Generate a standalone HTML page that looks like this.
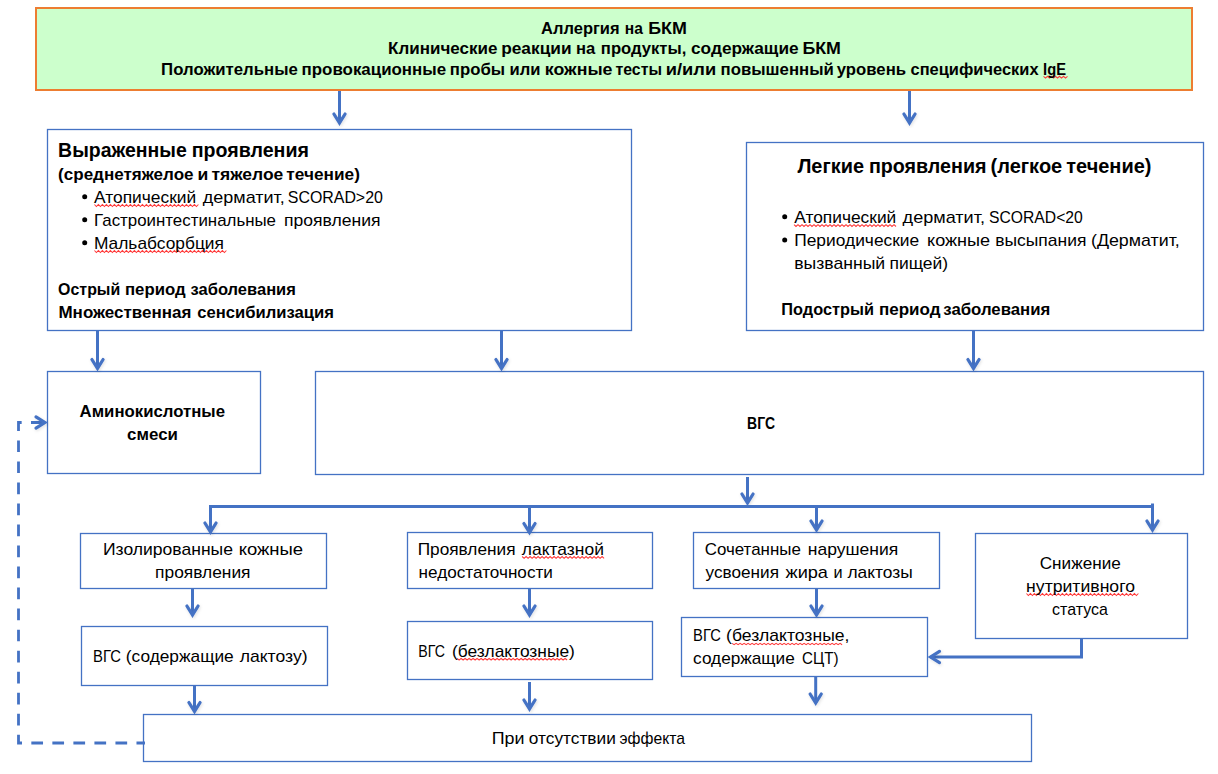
<!DOCTYPE html>
<html><head><meta charset="utf-8"><style>
html,body{margin:0;padding:0;background:#fff;width:1218px;height:774px;overflow:hidden}
svg{display:block}
text{font-family:"Liberation Sans", sans-serif;fill:#000;white-space:pre}
</style></head><body>
<svg width="1218" height="774" viewBox="0 0 1218 774">
<defs><filter id="sh" x="-50%" y="-50%" width="200%" height="200%"><feDropShadow dx="0.8" dy="1.2" stdDeviation="1.6" flood-color="#000" flood-opacity="0.13"/></filter></defs>
<rect x="36" y="8" width="1156" height="82" fill="#CCFFCC" stroke="#ED7D31" stroke-width="2"/>
<rect x="47.5" y="129.5" width="584" height="201" fill="#FFFFFF" stroke="#4472C4" stroke-width="1.3"/>
<rect x="746.5" y="142.5" width="457" height="188" fill="#FFFFFF" stroke="#4472C4" stroke-width="1.3"/>
<rect x="47.5" y="371.5" width="213" height="102" fill="#FFFFFF" stroke="#4472C4" stroke-width="1.3"/>
<rect x="315.5" y="371.5" width="888" height="103" fill="#FFFFFF" stroke="#4472C4" stroke-width="1.3"/>
<rect x="80.5" y="533.5" width="246" height="55" fill="#FFFFFF" stroke="#4472C4" stroke-width="1.3"/>
<rect x="407.5" y="532.5" width="245" height="56" fill="#FFFFFF" stroke="#4472C4" stroke-width="1.3"/>
<rect x="693.5" y="532.5" width="246" height="56" fill="#FFFFFF" stroke="#4472C4" stroke-width="1.3"/>
<rect x="975.5" y="533.5" width="212" height="105" fill="#FFFFFF" stroke="#4472C4" stroke-width="1.3"/>
<rect x="81.5" y="626.5" width="246" height="59" fill="#FFFFFF" stroke="#4472C4" stroke-width="1.3"/>
<rect x="407.5" y="621.5" width="245" height="58" fill="#FFFFFF" stroke="#4472C4" stroke-width="1.3"/>
<rect x="681.5" y="617.5" width="246" height="59" fill="#FFFFFF" stroke="#4472C4" stroke-width="1.3"/>
<rect x="143.5" y="714.5" width="888" height="47" fill="#FFFFFF" stroke="#4472C4" stroke-width="1.3"/>
<line x1="339.5" y1="91" x2="339.5" y2="122.9" stroke="#4472C4" stroke-width="3"/><polyline points="333.9,114.0 339.5,122.9 345.1,114.0" fill="none" stroke="#4472C4" stroke-width="3.2" stroke-linecap="round" stroke-linejoin="miter" stroke-miterlimit="6" filter="url(#sh)"/>
<line x1="909.5" y1="91" x2="909.5" y2="122.9" stroke="#4472C4" stroke-width="3"/><polyline points="903.9,114.0 909.5,122.9 915.1,114.0" fill="none" stroke="#4472C4" stroke-width="3.2" stroke-linecap="round" stroke-linejoin="miter" stroke-miterlimit="6" filter="url(#sh)"/>
<line x1="97.5" y1="331" x2="97.5" y2="368.4" stroke="#4472C4" stroke-width="3"/><polyline points="91.9,359.5 97.5,368.4 103.1,359.5" fill="none" stroke="#4472C4" stroke-width="3.2" stroke-linecap="round" stroke-linejoin="miter" stroke-miterlimit="6" filter="url(#sh)"/>
<line x1="501.5" y1="331" x2="501.5" y2="368.4" stroke="#4472C4" stroke-width="3"/><polyline points="495.9,359.5 501.5,368.4 507.1,359.5" fill="none" stroke="#4472C4" stroke-width="3.2" stroke-linecap="round" stroke-linejoin="miter" stroke-miterlimit="6" filter="url(#sh)"/>
<line x1="973.5" y1="331" x2="973.5" y2="368.4" stroke="#4472C4" stroke-width="3"/><polyline points="967.9,359.5 973.5,368.4 979.1,359.5" fill="none" stroke="#4472C4" stroke-width="3.2" stroke-linecap="round" stroke-linejoin="miter" stroke-miterlimit="6" filter="url(#sh)"/>
<line x1="747.5" y1="477" x2="747.5" y2="502.9" stroke="#4472C4" stroke-width="3"/><polyline points="741.9,494.0 747.5,502.9 753.1,494.0" fill="none" stroke="#4472C4" stroke-width="3.2" stroke-linecap="round" stroke-linejoin="miter" stroke-miterlimit="6" filter="url(#sh)"/>
<line x1="209" y1="506.5" x2="1154" y2="506.5" stroke="#4472C4" stroke-width="3"/>
<line x1="210.5" y1="505" x2="210.5" y2="531.9" stroke="#4472C4" stroke-width="3"/><polyline points="204.9,523.0 210.5,531.9 216.1,523.0" fill="none" stroke="#4472C4" stroke-width="3.2" stroke-linecap="round" stroke-linejoin="miter" stroke-miterlimit="6" filter="url(#sh)"/>
<line x1="529.5" y1="505" x2="529.5" y2="532.4" stroke="#4472C4" stroke-width="3"/><polyline points="523.9,523.5 529.5,532.4 535.1,523.5" fill="none" stroke="#4472C4" stroke-width="3.2" stroke-linecap="round" stroke-linejoin="miter" stroke-miterlimit="6" filter="url(#sh)"/>
<line x1="816.5" y1="505" x2="816.5" y2="529.9" stroke="#4472C4" stroke-width="3"/><polyline points="810.9,521.0 816.5,529.9 822.1,521.0" fill="none" stroke="#4472C4" stroke-width="3.2" stroke-linecap="round" stroke-linejoin="miter" stroke-miterlimit="6" filter="url(#sh)"/>
<line x1="1152.5" y1="503.5" x2="1152.5" y2="529.9" stroke="#4472C4" stroke-width="3"/><polyline points="1146.9,521.0 1152.5,529.9 1158.1,521.0" fill="none" stroke="#4472C4" stroke-width="3.2" stroke-linecap="round" stroke-linejoin="miter" stroke-miterlimit="6" filter="url(#sh)"/>
<line x1="192.5" y1="589" x2="192.5" y2="614.9" stroke="#4472C4" stroke-width="3"/><polyline points="186.9,606.0 192.5,614.9 198.1,606.0" fill="none" stroke="#4472C4" stroke-width="3.2" stroke-linecap="round" stroke-linejoin="miter" stroke-miterlimit="6" filter="url(#sh)"/>
<line x1="529.5" y1="589" x2="529.5" y2="614.9" stroke="#4472C4" stroke-width="3"/><polyline points="523.9,606.0 529.5,614.9 535.1,606.0" fill="none" stroke="#4472C4" stroke-width="3.2" stroke-linecap="round" stroke-linejoin="miter" stroke-miterlimit="6" filter="url(#sh)"/>
<line x1="816.5" y1="589" x2="816.5" y2="614.9" stroke="#4472C4" stroke-width="3"/><polyline points="810.9,606.0 816.5,614.9 822.1,606.0" fill="none" stroke="#4472C4" stroke-width="3.2" stroke-linecap="round" stroke-linejoin="miter" stroke-miterlimit="6" filter="url(#sh)"/>
<line x1="194.5" y1="686" x2="194.5" y2="711.4" stroke="#4472C4" stroke-width="3"/><polyline points="188.9,702.5 194.5,711.4 200.1,702.5" fill="none" stroke="#4472C4" stroke-width="3.2" stroke-linecap="round" stroke-linejoin="miter" stroke-miterlimit="6" filter="url(#sh)"/>
<line x1="529.5" y1="682" x2="529.5" y2="708.9" stroke="#4472C4" stroke-width="3"/><polyline points="523.9,700.0 529.5,708.9 535.1,700.0" fill="none" stroke="#4472C4" stroke-width="3.2" stroke-linecap="round" stroke-linejoin="miter" stroke-miterlimit="6" filter="url(#sh)"/>
<line x1="815.7" y1="677" x2="815.7" y2="702.9" stroke="#4472C4" stroke-width="3"/><polyline points="810.1,694.0 815.7,702.9 821.3000000000001,694.0" fill="none" stroke="#4472C4" stroke-width="3.2" stroke-linecap="round" stroke-linejoin="miter" stroke-miterlimit="6" filter="url(#sh)"/>
<polyline points="1081.5,639 1081.5,657 930.6,657" fill="none" stroke="#4472C4" stroke-width="3"/>
<polyline points="939.5,651.4 930.6,657 939.5,662.6" fill="none" stroke="#4472C4" stroke-width="3.2" stroke-linecap="round" stroke-linejoin="miter" stroke-miterlimit="6" filter="url(#sh)"/>
<path d="M145 743 H18.5 V422.5 H44" fill="none" stroke="#4472C4" stroke-width="2.8" stroke-dasharray="11.7 9.33" stroke-dashoffset="3.18"/>
<polyline points="36.0,416.9 44.9,422.5 36.0,428.1" fill="none" stroke="#4472C4" stroke-width="3.2" stroke-linecap="round" stroke-linejoin="miter" stroke-miterlimit="6" filter="url(#sh)"/>
<circle cx="84.7" cy="196.8" r="2.5" fill="#000"/>
<circle cx="84.7" cy="219.8" r="2.5" fill="#000"/>
<circle cx="84.7" cy="242.8" r="2.5" fill="#000"/>
<circle cx="784.7" cy="216.7" r="2.5" fill="#000"/>
<circle cx="784.7" cy="239.9" r="2.5" fill="#000"/>
<polyline points="1043.5,76.3 1045.5,78.1 1047.5,76.3 1049.5,78.1 1051.5,76.3 1053.5,78.1 1055.5,76.3 1057.5,78.1 1059.5,76.3 1061.5,78.1 1063.5,76.3 1065.5,78.1 1067.5,76.3" fill="none" stroke="#FF3A3A" stroke-width="1.05"/>
<polyline points="94.4,204.5 96.4,206.5 98.4,204.5 100.4,206.5 102.4,204.5 104.4,206.5 106.4,204.5 108.4,206.5 110.4,204.5 112.4,206.5 114.4,204.5 116.4,206.5 118.4,204.5 120.4,206.5 122.4,204.5 124.4,206.5 126.4,204.5 128.4,206.5 130.4,204.5 132.4,206.5 134.4,204.5 136.4,206.5 138.4,204.5 140.4,206.5 142.4,204.5 144.4,206.5 146.4,204.5 148.4,206.5 150.4,204.5 152.4,206.5 154.4,204.5 156.4,206.5 158.4,204.5 160.4,206.5 162.4,204.5 164.4,206.5 166.4,204.5 168.4,206.5 170.4,204.5 172.4,206.5 174.4,204.5 176.4,206.5 178.4,204.5 180.4,206.5 182.4,204.5 184.4,206.5 186.4,204.5 188.4,206.5 190.4,204.5 192.4,206.5 194.4,204.5 196.4,206.5 198.4,204.5" fill="none" stroke="#FF3A3A" stroke-width="1.05"/>
<polyline points="94.4,250.5 96.4,252.5 98.4,250.5 100.4,252.5 102.4,250.5 104.4,252.5 106.4,250.5 108.4,252.5 110.4,250.5 112.4,252.5 114.4,250.5 116.4,252.5 118.4,250.5 120.4,252.5 122.4,250.5 124.4,252.5 126.4,250.5 128.4,252.5 130.4,250.5 132.4,252.5 134.4,250.5 136.4,252.5 138.4,250.5 140.4,252.5 142.4,250.5 144.4,252.5 146.4,250.5 148.4,252.5 150.4,250.5 152.4,252.5 154.4,250.5 156.4,252.5 158.4,250.5 160.4,252.5 162.4,250.5 164.4,252.5 166.4,250.5 168.4,252.5 170.4,250.5 172.4,252.5 174.4,250.5 176.4,252.5 178.4,250.5 180.4,252.5 182.4,250.5 184.4,252.5 186.4,250.5 188.4,252.5 190.4,250.5 192.4,252.5 194.4,250.5 196.4,252.5 198.4,250.5 200.4,252.5 202.4,250.5 204.4,252.5 206.4,250.5 208.4,252.5 210.4,250.5 212.4,252.5 214.4,250.5 216.4,252.5 218.4,250.5 220.4,252.5 222.4,250.5 224.4,252.5 226.4,250.5" fill="none" stroke="#FF3A3A" stroke-width="1.05"/>
<polyline points="794.0,224.7 796.0,226.5 798.0,224.7 800.0,226.5 802.0,224.7 804.0,226.5 806.0,224.7 808.0,226.5 810.0,224.7 812.0,226.5 814.0,224.7 816.0,226.5 818.0,224.7 820.0,226.5 822.0,224.7 824.0,226.5 826.0,224.7 828.0,226.5 830.0,224.7 832.0,226.5 834.0,224.7 836.0,226.5 838.0,224.7 840.0,226.5 842.0,224.7 844.0,226.5 846.0,224.7 848.0,226.5 850.0,224.7 852.0,226.5 854.0,224.7 856.0,226.5 858.0,224.7 860.0,226.5 862.0,224.7 864.0,226.5 866.0,224.7 868.0,226.5 870.0,224.7 872.0,226.5 874.0,224.7 876.0,226.5 878.0,224.7 880.0,226.5 882.0,224.7 884.0,226.5 886.0,224.7 888.0,226.5 890.0,224.7 892.0,226.5 894.0,224.7 896.0,226.5" fill="none" stroke="#FF3A3A" stroke-width="1.05"/>
<polyline points="522.1,556.5 524.1,558.4 526.1,556.5 528.1,558.4 530.1,556.5 532.1,558.4 534.1,556.5 536.1,558.4 538.1,556.5 540.1,558.4 542.1,556.5 544.1,558.4 546.1,556.5 548.1,558.4 550.1,556.5 552.1,558.4 554.1,556.5 556.1,558.4 558.1,556.5 560.1,558.4 562.1,556.5 564.1,558.4 566.1,556.5 568.1,558.4 570.1,556.5 572.1,558.4 574.1,556.5 576.1,558.4 578.1,556.5 580.1,558.4 582.1,556.5 584.1,558.4 586.1,556.5 588.1,558.4 590.1,556.5 592.1,558.4 594.1,556.5 596.1,558.4 598.1,556.5 600.1,558.4 602.1,556.5 604.1,558.4" fill="none" stroke="#FF3A3A" stroke-width="1.05"/>
<polyline points="1026.4,593.5 1028.4,595.5 1030.4,593.5 1032.4,595.5 1034.4,593.5 1036.4,595.5 1038.4,593.5 1040.4,595.5 1042.4,593.5 1044.4,595.5 1046.4,593.5 1048.4,595.5 1050.4,593.5 1052.4,595.5 1054.4,593.5 1056.4,595.5 1058.4,593.5 1060.4,595.5 1062.4,593.5 1064.4,595.5 1066.4,593.5 1068.4,595.5 1070.4,593.5 1072.4,595.5 1074.4,593.5 1076.4,595.5 1078.4,593.5 1080.4,595.5 1082.4,593.5 1084.4,595.5 1086.4,593.5 1088.4,595.5 1090.4,593.5 1092.4,595.5 1094.4,593.5 1096.4,595.5 1098.4,593.5 1100.4,595.5 1102.4,593.5 1104.4,595.5 1106.4,593.5 1108.4,595.5 1110.4,593.5 1112.4,595.5 1114.4,593.5 1116.4,595.5 1118.4,593.5 1120.4,595.5 1122.4,593.5 1124.4,595.5 1126.4,593.5 1128.4,595.5 1130.4,593.5 1132.4,595.5 1134.4,593.5 1136.4,595.5 1138.4,593.5" fill="none" stroke="#FF3A3A" stroke-width="1.05"/>
<polyline points="457.1,658.4 459.1,660.0 461.1,658.4 463.1,660.0 465.1,658.4 467.1,660.0 469.1,658.4 471.1,660.0 473.1,658.4 475.1,660.0 477.1,658.4 479.1,660.0 481.1,658.4 483.1,660.0 485.1,658.4 487.1,660.0 489.1,658.4 491.1,660.0 493.1,658.4 495.1,660.0 497.1,658.4 499.1,660.0 501.1,658.4 503.1,660.0 505.1,658.4 507.1,660.0 509.1,658.4 511.1,660.0 513.1,658.4 515.1,660.0 517.1,658.4 519.1,660.0 521.1,658.4 523.1,660.0 525.1,658.4 527.1,660.0 529.1,658.4 531.1,660.0 533.1,658.4 535.1,660.0 537.1,658.4 539.1,660.0 541.1,658.4 543.1,660.0 545.1,658.4 547.1,660.0 549.1,658.4 551.1,660.0 553.1,658.4 555.1,660.0 557.1,658.4 559.1,660.0 561.1,658.4 563.1,660.0 565.1,658.4 567.1,660.0" fill="none" stroke="#FF3A3A" stroke-width="1.05"/>
<polyline points="732.1,643.4 734.1,644.7 736.1,643.4 738.1,644.7 740.1,643.4 742.1,644.7 744.1,643.4 746.1,644.7 748.1,643.4 750.1,644.7 752.1,643.4 754.1,644.7 756.1,643.4 758.1,644.7 760.1,643.4 762.1,644.7 764.1,643.4 766.1,644.7 768.1,643.4 770.1,644.7 772.1,643.4 774.1,644.7 776.1,643.4 778.1,644.7 780.1,643.4 782.1,644.7 784.1,643.4 786.1,644.7 788.1,643.4 790.1,644.7 792.1,643.4 794.1,644.7 796.1,643.4 798.1,644.7 800.1,643.4 802.1,644.7 804.1,643.4 806.1,644.7 808.1,643.4 810.1,644.7 812.1,643.4 814.1,644.7 816.1,643.4 818.1,644.7 820.1,643.4 822.1,644.7 824.1,643.4 826.1,644.7 828.1,643.4 830.1,644.7 832.1,643.4 834.1,644.7 836.1,643.4 838.1,644.7 840.1,643.4 842.1,644.7" fill="none" stroke="#FF3A3A" stroke-width="1.05"/>
<text x="541.10" y="34" font-size="17" font-weight="bold" textLength="78.48" lengthAdjust="spacingAndGlyphs">Аллергия</text>
<text x="624.86" y="34" font-size="17" font-weight="bold" textLength="18.08" lengthAdjust="spacingAndGlyphs">на</text>
<text x="648.27" y="34" font-size="17" font-weight="bold" textLength="38.63" lengthAdjust="spacingAndGlyphs">БКМ</text>
<text x="388.10" y="54" font-size="17" font-weight="bold" textLength="109.28" lengthAdjust="spacingAndGlyphs">Клинические</text>
<text x="501.21" y="54" font-size="17" font-weight="bold" textLength="70.30" lengthAdjust="spacingAndGlyphs">реакции</text>
<text x="576.08" y="54" font-size="17" font-weight="bold" textLength="19.30" lengthAdjust="spacingAndGlyphs">на</text>
<text x="600.85" y="54" font-size="17" font-weight="bold" textLength="85.42" lengthAdjust="spacingAndGlyphs">продукты,</text>
<text x="691.00" y="54" font-size="17" font-weight="bold" textLength="107.64" lengthAdjust="spacingAndGlyphs">содержащие</text>
<text x="802.40" y="54" font-size="17" font-weight="bold" textLength="38.50" lengthAdjust="spacingAndGlyphs">БКМ</text>
<text x="161.10" y="75" font-size="17" font-weight="bold" textLength="136.73" lengthAdjust="spacingAndGlyphs">Положительные</text>
<text x="301.53" y="75" font-size="17" font-weight="bold" textLength="144.61" lengthAdjust="spacingAndGlyphs">провокационные</text>
<text x="449.84" y="75" font-size="17" font-weight="bold" textLength="55.19" lengthAdjust="spacingAndGlyphs">пробы</text>
<text x="509.47" y="75" font-size="17" font-weight="bold" textLength="30.94" lengthAdjust="spacingAndGlyphs">или</text>
<text x="544.85" y="75" font-size="17" font-weight="bold" textLength="67.67" lengthAdjust="spacingAndGlyphs">кожные</text>
<text x="615.48" y="75" font-size="17" font-weight="bold" textLength="46.48" lengthAdjust="spacingAndGlyphs">тесты</text>
<text x="665.66" y="75" font-size="17" font-weight="bold" textLength="50.50" lengthAdjust="spacingAndGlyphs">и/или</text>
<text x="720.59" y="75" font-size="17" font-weight="bold" textLength="113.25" lengthAdjust="spacingAndGlyphs">повышенный</text>
<text x="836.80" y="75" font-size="17" font-weight="bold" textLength="69.22" lengthAdjust="spacingAndGlyphs">уровень</text>
<text x="910.55" y="75" font-size="17" font-weight="bold" textLength="128.01" lengthAdjust="spacingAndGlyphs">специфических</text>
<text x="1043.10" y="75" font-size="17" font-weight="bold" textLength="22.90" lengthAdjust="spacingAndGlyphs">IgE</text>
<text x="58.10" y="156.7" font-size="20" font-weight="bold" textLength="128.71" lengthAdjust="spacingAndGlyphs">Выраженные</text>
<text x="191.70" y="156.7" font-size="20" font-weight="bold" textLength="117.20" lengthAdjust="spacingAndGlyphs">проявления</text>
<text x="58.10" y="179.7" font-size="17" font-weight="bold" textLength="135.48" lengthAdjust="spacingAndGlyphs">(среднетяжелое</text>
<text x="197.47" y="179.7" font-size="17" font-weight="bold" textLength="10.80" lengthAdjust="spacingAndGlyphs">и</text>
<text x="211.43" y="179.7" font-size="17" font-weight="bold" textLength="71.84" lengthAdjust="spacingAndGlyphs">тяжелое</text>
<text x="286.36" y="179.7" font-size="17" font-weight="bold" textLength="73.54" lengthAdjust="spacingAndGlyphs">течение)</text>
<text x="94.00" y="202.6" font-size="17" textLength="102.17" lengthAdjust="spacingAndGlyphs">Атопический</text>
<text x="202.82" y="202.6" font-size="17" textLength="81.97" lengthAdjust="spacingAndGlyphs">дерматит,</text>
<text x="287.78" y="202.6" font-size="17" textLength="95.12" lengthAdjust="spacingAndGlyphs">SCORAD&gt;20</text>
<text x="94.10" y="225.7" font-size="17" textLength="181.91" lengthAdjust="spacingAndGlyphs">Гастроинтестинальные</text>
<text x="284.09" y="225.7" font-size="17" textLength="96.48" lengthAdjust="spacingAndGlyphs">проявления</text>
<text x="93.96" y="248.5" font-size="17" textLength="129.94" lengthAdjust="spacingAndGlyphs">Мальабсорбция</text>
<text x="58.10" y="294.7" font-size="17" font-weight="bold" textLength="62.17" lengthAdjust="spacingAndGlyphs">Острый</text>
<text x="124.97" y="294.7" font-size="17" font-weight="bold" textLength="60.66" lengthAdjust="spacingAndGlyphs">период</text>
<text x="190.55" y="294.7" font-size="17" font-weight="bold" textLength="105.35" lengthAdjust="spacingAndGlyphs">заболевания</text>
<text x="58.48" y="317.6" font-size="17" font-weight="bold" textLength="132.91" lengthAdjust="spacingAndGlyphs">Множественная</text>
<text x="197.30" y="317.6" font-size="17" font-weight="bold" textLength="136.60" lengthAdjust="spacingAndGlyphs">сенсибилизация</text>
<text x="797.38" y="172.8" font-size="20" font-weight="bold" textLength="66.62" lengthAdjust="spacingAndGlyphs">Легкие</text>
<text x="868.89" y="172.8" font-size="20" font-weight="bold" textLength="117.65" lengthAdjust="spacingAndGlyphs">проявления</text>
<text x="990.53" y="172.8" font-size="20" font-weight="bold" textLength="71.74" lengthAdjust="spacingAndGlyphs">(легкое</text>
<text x="1066.29" y="172.8" font-size="20" font-weight="bold" textLength="85.11" lengthAdjust="spacingAndGlyphs">течение)</text>
<text x="794.24" y="222.6" font-size="17" textLength="102.06" lengthAdjust="spacingAndGlyphs">Атопический</text>
<text x="902.61" y="222.6" font-size="17" textLength="82.42" lengthAdjust="spacingAndGlyphs">дерматит,</text>
<text x="988.99" y="222.6" font-size="17" textLength="93.77" lengthAdjust="spacingAndGlyphs">SCORAD&lt;20</text>
<text x="794.22" y="246" font-size="17" textLength="125.00" lengthAdjust="spacingAndGlyphs">Периодические</text>
<text x="927.05" y="246" font-size="17" textLength="63.12" lengthAdjust="spacingAndGlyphs">кожные</text>
<text x="995.23" y="246" font-size="17" textLength="91.18" lengthAdjust="spacingAndGlyphs">высыпания</text>
<text x="1090.97" y="246" font-size="17" textLength="88.83" lengthAdjust="spacingAndGlyphs">(Дерматит,</text>
<text x="794.22" y="268.5" font-size="17" textLength="91.00" lengthAdjust="spacingAndGlyphs">вызванный</text>
<text x="889.47" y="268.5" font-size="17" textLength="58.67" lengthAdjust="spacingAndGlyphs">пищей)</text>
<text x="781.34" y="314.5" font-size="17" font-weight="bold" textLength="92.62" lengthAdjust="spacingAndGlyphs">Подострый</text>
<text x="878.98" y="314.5" font-size="17" font-weight="bold" textLength="61.54" lengthAdjust="spacingAndGlyphs">период</text>
<text x="943.28" y="314.5" font-size="17" font-weight="bold" textLength="107.00" lengthAdjust="spacingAndGlyphs">заболевания</text>
<text x="79.60" y="416.6" font-size="17" font-weight="bold" textLength="145.40" lengthAdjust="spacingAndGlyphs">Аминокислотные</text>
<text x="127.10" y="439.7" font-size="17" font-weight="bold" textLength="50.80" lengthAdjust="spacingAndGlyphs">смеси</text>
<text x="747.10" y="428.7" font-size="17" font-weight="bold" textLength="27.90" lengthAdjust="spacingAndGlyphs">ВГС</text>
<text x="102.96" y="554.7" font-size="17" textLength="130.05" lengthAdjust="spacingAndGlyphs">Изолированные</text>
<text x="238.65" y="554.7" font-size="17" textLength="64.49" lengthAdjust="spacingAndGlyphs">кожные</text>
<text x="155.10" y="577.6" font-size="17" textLength="95.42" lengthAdjust="spacingAndGlyphs">проявления</text>
<text x="417.70" y="554.7" font-size="17" textLength="97.83" lengthAdjust="spacingAndGlyphs">Проявления</text>
<text x="521.82" y="554.7" font-size="17" textLength="82.08" lengthAdjust="spacingAndGlyphs">лактазной</text>
<text x="418.60" y="577.5" font-size="17" textLength="134.30" lengthAdjust="spacingAndGlyphs">недостаточности</text>
<text x="704.72" y="554.7" font-size="17" textLength="96.11" lengthAdjust="spacingAndGlyphs">Сочетанные</text>
<text x="807.87" y="554.7" font-size="17" textLength="90.45" lengthAdjust="spacingAndGlyphs">нарушения</text>
<text x="705.62" y="577.5" font-size="17" textLength="73.37" lengthAdjust="spacingAndGlyphs">усвоения</text>
<text x="785.50" y="577.5" font-size="17" textLength="42.45" lengthAdjust="spacingAndGlyphs">жира</text>
<text x="833.54" y="577.5" font-size="17" textLength="9.10" lengthAdjust="spacingAndGlyphs">и</text>
<text x="847.44" y="577.5" font-size="17" textLength="65.34" lengthAdjust="spacingAndGlyphs">лактозы</text>
<text x="1039.72" y="568.6" font-size="17" textLength="81.04" lengthAdjust="spacingAndGlyphs">Снижение</text>
<text x="1026.10" y="591.6" font-size="17" textLength="108.92" lengthAdjust="spacingAndGlyphs">нутритивного</text>
<text x="1052.10" y="614.7" font-size="17" textLength="55.90" lengthAdjust="spacingAndGlyphs">статуса</text>
<text x="93.10" y="662" font-size="17" textLength="27.98" lengthAdjust="spacingAndGlyphs">ВГС</text>
<text x="125.77" y="662" font-size="17" textLength="107.99" lengthAdjust="spacingAndGlyphs">(содержащие</text>
<text x="239.72" y="662" font-size="17" textLength="67.83" lengthAdjust="spacingAndGlyphs">лактозу)</text>
<text x="418.34" y="657" font-size="17" textLength="26.75" lengthAdjust="spacingAndGlyphs">ВГС</text>
<text x="451.92" y="657" font-size="17" textLength="122.98" lengthAdjust="spacingAndGlyphs">(безлактозные)</text>
<text x="693.10" y="641" font-size="17" textLength="27.85" lengthAdjust="spacingAndGlyphs">ВГС</text>
<text x="726.07" y="641" font-size="17" textLength="123.36" lengthAdjust="spacingAndGlyphs">(безлактозные,</text>
<text x="693.10" y="663.5" font-size="17" textLength="101.63" lengthAdjust="spacingAndGlyphs">содержащие</text>
<text x="802.09" y="663.5" font-size="17" textLength="36.46" lengthAdjust="spacingAndGlyphs">СЦТ)</text>
<text x="491.70" y="743.8" font-size="17" textLength="32.71" lengthAdjust="spacingAndGlyphs">При</text>
<text x="528.85" y="743.8" font-size="17" textLength="86.94" lengthAdjust="spacingAndGlyphs">отсутствии</text>
<text x="619.55" y="743.8" font-size="17" textLength="65.45" lengthAdjust="spacingAndGlyphs">эффекта</text>
</svg>
</body></html>
